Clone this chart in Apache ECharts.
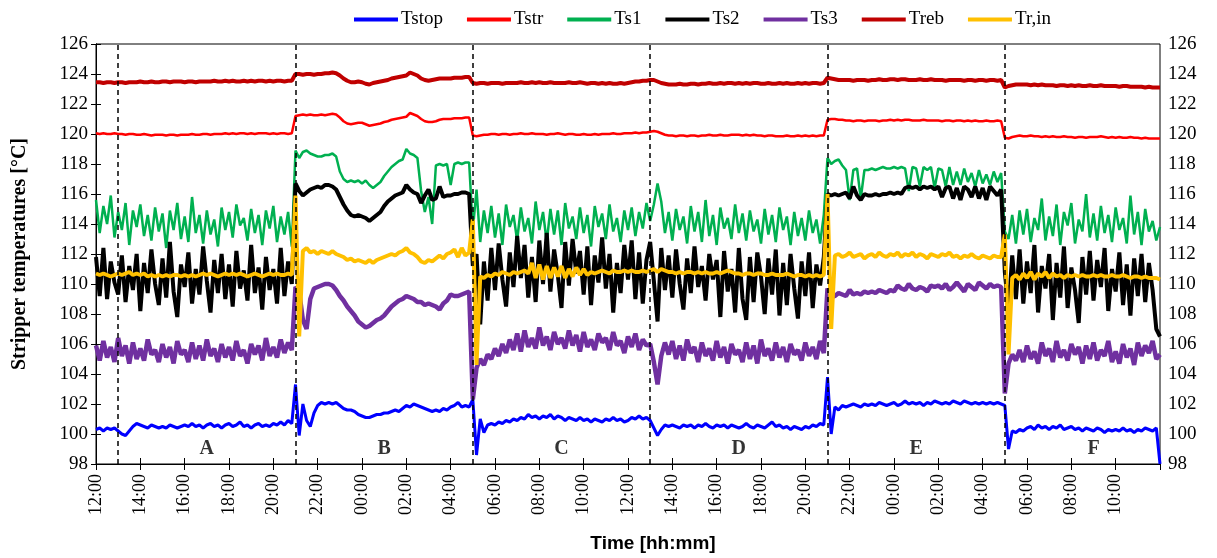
<!DOCTYPE html>
<html>
<head>
<meta charset="utf-8">
<title>Stripper temperatures</title>
<script src="https://cdn.jsdelivr.net/npm/echarts/dist/echarts.min.js"></script>
<style>
  html, body { margin: 0; padding: 0; background: #fff; }
  #chart { width: 1217px; height: 558px; }
</style>
</head>
<body>
<div id="chart"></div>
<script>
// one value every 10 min, one row = one hour, hour 0 = 12:00
const stepHours = 1 / 6;

const tstop = [
  100.3,100.4,100.2,100.4,100.3,100.4,
  100.2,100.0,99.9,100.2,100.5,100.7,
  100.6,100.5,100.4,100.6,100.5,100.4,
  100.5,100.4,100.6,100.5,100.4,100.5,
  100.6,100.5,100.7,100.5,100.6,100.4,
  100.6,100.7,100.5,100.6,100.4,100.6,
  100.7,100.5,100.6,100.8,100.5,100.6,
  100.4,100.6,100.7,100.5,100.6,100.5,
  100.7,100.6,100.8,100.6,100.9,100.7,
  103.3,99.9,102.0,100.9,100.5,101.4,
  101.9,102.1,102.0,102.1,102.0,102.1,
  101.9,101.7,101.6,101.6,101.5,101.3,
  101.2,101.1,101.1,101.2,101.3,101.3,
  101.4,101.4,101.5,101.6,101.5,101.7,
  101.9,101.8,102.0,101.9,101.8,101.7,
  101.6,101.5,101.6,101.5,101.7,101.6,
  101.8,101.9,102.1,101.8,101.9,101.8,
  102.3,98.6,101.0,100.1,100.6,100.7,
  100.6,100.8,100.7,100.9,100.8,101.0,
  100.9,101.1,101.0,101.3,101.1,101.2,
  101.0,101.2,101.1,101.3,101.0,101.2,
  101.1,100.9,101.1,101.0,100.9,101.1,
  100.9,101.0,100.8,101.0,100.9,100.8,
  101.0,100.9,101.1,100.9,101.0,100.8,
  100.9,101.1,101.0,101.2,101.0,101.1,
  100.9,100.4,99.9,100.3,100.6,100.5,
  100.6,100.5,100.4,100.6,100.5,100.6,
  100.4,100.6,100.5,100.7,100.5,100.4,
  100.6,100.5,100.6,100.4,100.6,100.5,
  100.4,100.5,100.7,100.5,100.4,100.6,
  100.5,100.4,100.6,100.8,100.5,100.6,
  100.4,100.5,100.3,100.5,100.4,100.3,
  100.5,100.4,100.6,100.5,100.7,100.6,
  103.8,100.0,101.8,101.6,101.9,101.8,
  101.9,102.0,101.9,101.8,102.0,101.9,
  102.0,101.9,102.1,102.0,101.9,102.0,
  102.1,101.9,102.0,102.2,102.0,102.1,
  102.0,102.1,101.9,102.1,102.0,102.2,
  102.1,102.0,102.1,102.0,102.2,102.1,
  102.0,102.2,102.1,102.0,102.1,102.0,
  102.1,102.0,102.1,102.0,102.1,102.0,
  101.9,99.0,100.2,100.1,100.3,100.2,
  100.4,100.5,100.3,100.6,100.4,100.5,
  100.3,100.5,100.4,100.6,100.3,100.4,
  100.5,100.3,100.4,100.2,100.4,100.3,
  100.2,100.4,100.3,100.1,100.3,100.2,
  100.3,100.2,100.4,100.2,100.3,100.1,
  100.3,100.2,100.4,100.3,100.2,100.4,
  98.0
];

const tstr = [
  120.05,120.0,120.05,120.0,120.0,120.05,
  120.0,120.0,119.95,120.0,120.0,119.95,
  119.95,120.0,119.95,119.9,119.95,119.95,
  119.95,119.9,119.95,119.95,119.9,119.95,
  119.95,119.95,120.0,119.95,119.95,120.0,
  120.0,119.95,120.0,120.0,120.0,120.05,
  120.0,120.05,120.0,120.05,120.05,120.0,
  120.05,120.0,120.05,120.05,120.05,120.0,
  120.05,120.0,120.05,120.05,120.0,120.05,
  121.2,121.25,121.3,121.25,121.3,121.25,
  121.25,121.3,121.25,121.3,121.35,121.3,
  121.1,120.85,120.7,120.65,120.7,120.75,
  120.75,120.65,120.55,120.6,120.65,120.7,
  120.8,120.85,120.95,121.0,121.05,121.1,
  121.15,121.4,121.3,121.2,121.0,120.85,
  120.8,120.8,120.85,120.95,121.0,121.0,
  121.0,121.05,121.05,121.05,121.1,121.1,
  119.9,119.85,119.9,119.95,119.95,120.0,
  120.0,119.95,120.0,120.0,119.95,120.0,
  120.0,120.05,120.0,120.0,120.05,120.0,
  120.0,120.0,119.95,120.0,120.0,120.05,
  120.0,119.95,120.0,120.0,119.95,119.95,
  120.0,119.95,119.95,120.0,119.95,120.0,
  120.0,120.0,120.05,120.0,120.0,120.05,
  120.05,120.05,120.1,120.05,120.1,120.1,
  120.15,120.2,120.15,120.05,119.95,119.9,
  119.9,119.85,119.9,119.9,119.85,119.9,
  119.9,119.85,119.9,119.9,119.95,119.9,
  119.9,119.95,119.9,119.9,119.95,119.95,
  119.95,119.9,119.95,119.9,119.95,119.9,
  119.9,119.85,119.9,119.9,119.85,119.85,
  119.85,119.9,119.85,119.85,119.9,119.85,
  119.9,119.85,119.9,119.85,119.9,119.9,
  120.95,121.0,121.0,120.95,120.95,120.9,
  120.9,120.85,120.9,120.9,120.85,120.9,
  120.9,120.9,120.85,120.9,120.9,120.95,
  120.9,120.95,120.9,120.95,120.95,120.9,
  120.9,120.9,120.95,120.9,120.9,120.9,
  120.9,120.85,120.9,120.9,120.85,120.9,
  120.9,120.85,120.9,120.85,120.9,120.85,
  120.85,120.9,120.85,120.85,120.9,120.85,
  119.75,119.7,119.8,119.85,119.9,119.85,
  119.85,119.9,119.85,119.85,119.8,119.85,
  119.8,119.85,119.8,119.8,119.85,119.8,
  119.8,119.75,119.8,119.8,119.75,119.8,
  119.8,119.8,119.85,119.8,119.75,119.8,
  119.75,119.8,119.75,119.75,119.8,119.75,
  119.75,119.7,119.75,119.7,119.7,119.7,
  119.7
];

const ts1 = [
  115.6,113.4,115.2,114.0,115.9,113.1,
  114.8,113.6,115.4,112.6,114.9,113.8,
  115.3,113.2,114.6,112.9,115.1,113.5,
  114.7,112.4,114.9,113.6,115.4,113.0,
  114.5,112.8,115.8,113.4,114.6,112.7,
  114.9,113.3,114.3,112.5,115.1,113.6,
  114.8,113.1,115.3,113.9,114.4,112.9,
  115.0,113.4,114.6,112.6,114.9,113.7,
  115.2,112.8,114.5,113.3,114.8,112.5,
  118.9,118.4,118.8,118.9,118.7,118.6,
  118.5,118.5,118.6,118.6,118.7,118.5,
  117.5,117.0,116.8,116.9,116.8,116.9,
  116.7,116.9,116.6,116.4,116.6,116.8,
  117.2,117.5,117.8,118.0,118.2,118.3,
  119.0,118.7,118.6,118.4,116.2,114.8,
  115.8,114.0,117.9,118.0,117.9,118.0,
  116.6,118.0,118.1,118.0,118.1,118.1,
  113.6,116.3,112.8,114.9,113.4,115.2,
  113.1,114.7,112.6,115.3,113.8,114.6,
  112.9,115.1,113.5,114.4,112.7,115.5,
  113.6,114.8,112.8,115.0,113.3,114.9,
  112.6,115.4,113.7,114.5,113.0,115.1,
  113.4,114.6,112.5,115.2,113.8,114.7,
  113.0,115.3,113.5,114.4,112.8,114.9,
  113.6,115.1,113.2,114.8,113.7,115.4,
  114.2,115.3,116.7,115.5,113.4,114.8,
  112.9,115.0,113.6,114.5,112.7,115.2,
  113.5,114.8,112.8,115.6,113.2,114.6,
  112.6,115.1,113.7,114.4,113.0,115.3,
  113.4,114.7,112.9,114.9,113.5,114.3,
  112.7,115.0,113.3,114.6,112.8,115.1,
  113.6,114.5,112.6,114.8,113.2,114.4,
  112.9,114.9,113.4,114.3,112.7,114.6,
  118.4,118.0,118.2,118.3,117.9,117.6,
  115.6,117.6,117.7,115.7,117.6,117.6,
  117.7,117.6,117.7,117.8,117.7,117.7,
  117.8,117.7,117.8,117.7,116.2,117.8,
  117.7,116.5,117.8,117.6,117.8,116.4,
  117.7,117.6,116.5,117.8,116.6,117.5,
  116.6,117.7,116.8,117.4,116.5,117.6,
  116.7,117.3,116.6,117.5,116.8,117.4,
  113.5,113.0,114.6,112.7,114.9,113.3,
  115.0,112.8,114.4,113.6,115.7,112.9,
  114.5,113.2,115.3,112.6,114.8,113.9,
  115.4,112.7,114.3,113.5,116.0,113.1,
  114.7,112.9,115.2,113.4,114.6,112.8,
  115.1,113.6,114.4,112.7,115.9,113.3,
  114.8,112.6,115.0,113.5,114.2,112.9,
  113.8
];

const ts2 = [
  111.8,109.2,112.4,109.0,111.5,110.1,
  109.3,111.9,108.8,111.2,109.6,112.0,
  108.2,111.4,109.4,112.3,110.0,108.6,
  111.7,109.1,112.8,109.5,107.8,111.3,
  109.8,112.1,108.7,111.0,109.3,112.5,
  110.2,108.1,111.6,109.4,112.0,109.0,
  111.3,108.5,112.2,109.7,110.9,108.9,
  112.6,109.4,111.1,108.3,111.8,109.6,
  111.0,108.7,112.4,109.2,111.5,110.0,
  116.7,116.2,115.9,116.1,116.3,116.4,
  116.5,116.4,116.6,116.6,116.5,116.3,
  115.8,115.3,114.9,114.6,114.5,114.6,
  114.5,114.4,114.2,114.4,114.6,114.8,
  115.2,115.5,115.7,115.9,116.0,116.1,
  116.6,116.3,116.1,116.0,115.4,115.9,
  116.3,115.6,115.7,116.5,115.8,115.9,
  115.9,116.0,116.0,116.1,116.1,116.0,
  111.2,112.0,107.3,111.5,108.9,112.4,
  109.6,112.7,110.3,108.5,112.1,109.8,
  113.2,110.4,112.6,109.1,111.8,108.8,
  112.9,110.0,113.4,109.5,112.3,110.6,
  108.4,112.8,109.9,113.0,110.7,112.2,
  109.3,112.5,108.6,111.9,110.1,113.1,
  109.7,112.0,108.1,111.4,109.4,112.6,
  110.3,112.9,109.0,112.1,108.7,111.6,
  112.8,110.2,107.5,112.4,109.6,111.9,
  109.1,112.3,110.0,108.3,111.7,109.4,
  112.5,109.8,111.2,108.9,112.0,110.3,
  111.6,107.8,112.2,109.5,111.0,108.1,
  112.4,109.0,107.6,111.8,108.8,112.1,
  110.5,108.0,111.7,109.3,112.3,107.9,
  111.4,108.6,112.0,109.7,107.7,111.5,
  109.2,112.1,108.4,111.3,109.9,111.8,
  116.0,115.9,116.0,115.9,116.0,116.1,
  115.7,116.5,115.9,115.6,116.0,115.9,
  115.9,116.0,115.9,116.0,116.0,116.1,
  116.0,116.1,116.0,116.4,116.5,116.4,
  116.5,116.3,116.5,116.4,116.5,116.3,
  116.5,115.8,116.4,116.5,115.7,116.4,
  115.6,116.5,116.3,115.8,116.5,115.7,
  116.4,115.6,116.5,116.2,115.9,116.3,
  110.8,108.2,111.9,109.0,112.3,108.7,
  111.5,109.4,112.6,108.1,111.2,109.7,
  112.0,107.6,111.4,109.1,112.5,108.4,
  111.1,109.6,107.4,111.8,109.3,112.2,
  108.9,111.6,109.8,112.4,108.2,111.0,
  109.5,112.1,108.6,111.3,107.9,111.7,
  109.2,112.0,108.8,111.4,109.6,107.0,
  106.5
];

const ts3 = [
  105.9,104.9,106.2,105.1,105.8,104.8,
  106.4,105.2,105.9,104.7,106.1,105.0,
  105.7,104.9,106.3,105.3,105.6,104.8,
  106.0,105.1,105.8,104.7,106.2,105.3,
  105.6,104.8,106.1,105.0,105.9,104.9,
  106.3,105.2,105.7,104.8,106.0,105.1,
  105.8,104.9,106.2,105.2,105.6,104.7,
  106.0,105.3,105.9,104.9,106.4,105.2,
  105.8,105.1,106.3,105.4,106.1,105.6,
  109.8,109.5,107.6,107.0,109.0,109.7,
  109.8,109.9,110.0,110.0,109.9,109.6,
  109.2,108.9,108.5,108.2,107.9,107.5,
  107.3,107.1,107.2,107.4,107.6,107.7,
  107.9,108.2,108.5,108.7,108.9,109.0,
  109.2,109.1,109.0,108.8,108.8,108.6,
  108.7,108.6,108.5,108.3,108.7,108.9,
  109.3,109.2,109.2,109.3,109.4,109.5,
  102.3,104.4,105.0,104.6,105.3,105.0,
  105.7,105.2,106.0,105.4,106.3,105.6,
  106.7,105.5,106.9,105.8,106.4,105.7,
  107.1,105.9,106.5,105.6,106.8,106.0,
  106.4,105.7,106.9,105.9,106.6,105.5,
  106.8,105.8,106.3,105.6,106.7,106.1,
  106.4,105.6,106.8,105.9,106.2,105.4,
  106.5,105.8,106.7,105.6,106.3,105.9,
  106.0,104.8,103.3,105.2,106.1,105.3,
  106.2,105.0,105.9,104.9,106.3,105.4,
  105.8,104.8,106.1,105.2,105.7,104.9,
  106.2,105.1,105.8,104.7,106.0,105.3,
  105.6,104.8,106.1,105.0,105.9,104.7,
  106.3,105.2,105.7,104.9,106.1,105.1,
  105.8,104.8,106.0,105.3,105.6,104.9,
  106.1,105.2,105.8,105.0,106.2,105.4,
  109.7,109.1,109.2,109.4,109.3,109.2,
  109.6,109.3,109.4,109.3,109.5,109.4,
  109.5,109.4,109.6,109.5,109.4,109.6,
  109.5,109.9,109.7,109.6,110.0,109.7,
  109.6,109.8,109.7,109.5,109.9,109.8,
  109.9,109.7,110.0,109.6,109.8,110.1,
  109.8,109.5,110.0,109.8,109.6,110.1,
  109.9,109.7,110.0,109.8,109.9,109.8,
  102.7,104.7,105.3,104.9,105.6,104.8,
  105.9,105.0,105.5,104.7,106.1,105.2,
  105.7,104.8,106.2,105.1,105.6,104.9,
  106.0,105.3,105.8,104.7,105.9,105.0,
  106.1,104.9,105.6,105.2,106.2,104.8,
  105.5,104.7,106.0,105.1,105.7,104.6,
  106.1,105.2,105.9,105.4,106.2,105.0,
  105.3
];

const treb = [
  123.45,123.45,123.4,123.45,123.45,123.4,
  123.45,123.45,123.4,123.45,123.45,123.45,
  123.5,123.45,123.45,123.5,123.45,123.45,
  123.5,123.5,123.45,123.5,123.5,123.5,
  123.45,123.5,123.5,123.45,123.5,123.5,
  123.5,123.5,123.55,123.5,123.5,123.55,
  123.5,123.55,123.5,123.5,123.55,123.5,
  123.55,123.5,123.55,123.55,123.5,123.55,
  123.5,123.55,123.55,123.5,123.55,123.55,
  124.0,124.0,123.95,124.0,124.0,123.95,
  124.0,124.0,124.05,124.05,124.1,124.05,
  123.9,123.7,123.55,123.45,123.45,123.5,
  123.45,123.35,123.3,123.4,123.45,123.5,
  123.55,123.6,123.7,123.75,123.8,123.85,
  123.9,124.1,124.0,123.9,123.7,123.6,
  123.55,123.6,123.65,123.7,123.7,123.7,
  123.7,123.75,123.75,123.75,123.8,123.8,
  123.4,123.35,123.4,123.4,123.35,123.4,
  123.4,123.4,123.35,123.4,123.4,123.4,
  123.4,123.45,123.4,123.4,123.45,123.4,
  123.45,123.4,123.4,123.45,123.4,123.4,
  123.4,123.4,123.45,123.4,123.4,123.45,
  123.4,123.35,123.4,123.4,123.35,123.4,
  123.35,123.4,123.35,123.35,123.4,123.35,
  123.4,123.45,123.5,123.5,123.55,123.55,
  123.6,123.6,123.5,123.4,123.35,123.3,
  123.3,123.3,123.35,123.3,123.3,123.35,
  123.35,123.3,123.35,123.35,123.4,123.35,
  123.35,123.4,123.35,123.4,123.4,123.35,
  123.4,123.35,123.4,123.35,123.4,123.4,
  123.35,123.35,123.4,123.35,123.35,123.4,
  123.35,123.4,123.35,123.35,123.4,123.35,
  123.4,123.35,123.4,123.4,123.35,123.4,
  123.75,123.7,123.65,123.6,123.6,123.6,
  123.6,123.55,123.6,123.6,123.6,123.55,
  123.6,123.6,123.65,123.6,123.6,123.65,
  123.65,123.6,123.65,123.65,123.6,123.6,
  123.6,123.65,123.6,123.6,123.65,123.6,
  123.6,123.6,123.55,123.6,123.6,123.6,
  123.6,123.55,123.6,123.6,123.55,123.6,
  123.6,123.55,123.6,123.6,123.55,123.6,
  123.1,123.2,123.25,123.3,123.3,123.3,
  123.3,123.25,123.3,123.25,123.3,123.25,
  123.25,123.25,123.2,123.25,123.25,123.2,
  123.25,123.2,123.25,123.2,123.2,123.25,
  123.2,123.2,123.25,123.2,123.2,123.2,
  123.2,123.15,123.2,123.2,123.15,123.15,
  123.15,123.15,123.1,123.15,123.1,123.1,
  123.1
];

const trin = [
  110.7,110.6,110.7,110.6,110.5,110.6,
  110.7,110.6,110.7,110.8,110.6,110.7,
  110.6,110.7,110.5,110.6,110.5,110.6,
  110.5,110.6,110.5,110.6,110.6,110.5,
  110.6,110.5,110.6,110.5,110.6,110.7,
  110.6,110.7,110.6,110.5,110.6,110.7,
  110.6,110.7,110.6,110.7,110.6,110.5,
  110.6,110.7,110.6,110.5,110.6,110.7,
  110.6,110.7,110.6,110.6,110.7,110.6,
  115.9,106.5,112.2,112.4,112.1,112.2,
  112.0,112.2,112.1,112.0,112.2,112.0,
  111.9,111.8,111.6,111.7,111.5,111.6,
  111.5,111.4,111.6,111.4,111.6,111.7,
  111.8,111.9,112.0,111.9,112.1,112.2,
  112.4,112.1,112.0,111.8,111.5,111.4,
  111.6,111.5,111.7,111.9,111.7,112.0,
  112.1,112.3,111.8,112.4,111.9,112.1,
  114.3,104.6,110.5,110.4,110.6,110.5,
  110.7,110.6,110.8,110.7,110.6,110.8,
  110.7,110.8,110.9,110.7,111.4,110.4,
  111.3,110.3,111.2,110.4,111.1,110.5,
  111.2,110.4,111.0,110.5,111.1,110.6,
  111.0,110.6,110.8,110.7,110.8,110.9,
  110.8,110.7,110.9,110.8,110.8,110.9,
  110.8,110.9,110.8,110.8,110.9,110.8,
  110.9,111.0,110.8,111.0,110.9,110.8,
  110.8,110.7,110.8,110.7,110.8,110.8,
  110.7,110.8,110.7,110.8,110.7,110.7,
  110.8,110.7,110.8,110.9,110.8,110.7,
  110.7,110.6,110.7,110.7,110.6,110.7,
  110.7,110.6,110.6,110.7,110.6,110.6,
  110.6,110.7,110.6,110.5,110.6,110.6,
  110.5,110.6,110.5,110.6,110.5,110.6,
  116.0,107.0,111.9,112.0,111.8,111.9,
  112.1,111.8,111.9,112.0,111.7,111.9,
  112.0,111.8,112.1,111.9,111.8,112.0,
  111.9,112.1,111.8,112.0,111.9,112.1,
  111.8,112.0,111.9,111.7,112.0,111.9,
  111.8,112.0,111.9,112.1,111.8,111.9,
  111.7,111.9,111.8,112.0,111.8,111.7,
  111.9,111.8,111.7,111.9,111.8,111.8,
  113.3,105.3,110.4,110.6,110.3,110.7,
  110.4,110.8,110.3,110.7,110.5,110.8,
  110.4,110.7,110.5,110.6,110.4,110.6,
  110.5,110.6,110.5,110.6,110.5,110.5,
  110.6,110.5,110.6,110.5,110.5,110.6,
  110.5,110.5,110.6,110.5,110.4,110.5,
  110.5,110.4,110.5,110.4,110.4,110.4,
  110.3
];

// operating periods
const phaseBounds = [1, 9, 17, 25, 33, 41];
const phaseCenters = [5, 13, 21, 29, 37, 45];
const phaseLetters = ["A", "B", "C", "D", "E", "F"];

const seriesNames = ["Tstop", "Tstr", "Ts1", "Ts2", "Ts3", "Treb", "Tr,in"];
const seriesValues = [tstop, tstr, ts1, ts2, ts3, treb, trin];
const seriesColors = ["#0000FF", "#FF0000", "#00B050", "#000000", "#7030A0", "#C00000", "#FFC000"];
const seriesWidths = [3, 2.5, 2.5, 4, 4.5, 4, 4];

const serif = "Liberation Serif";

function toPairs(arr) {
  return arr.map(function (v, i) {
    return [i * stepHours, v];
  });
}

function clockLabel(v) {
  if (v >= 48) return "";
  const hh = (12 + v) % 24;
  return (hh < 10 ? "0" : "") + hh + ":00";
}

const chart = echarts.init(document.getElementById("chart"));

const lineSeries = seriesNames.map(function (name, k) {
  return {
    name: name,
    type: "line",
    data: toPairs(seriesValues[k]),
    showSymbol: false,
    symbol: "none",
    color: seriesColors[k],
    lineStyle: { color: seriesColors[k], width: seriesWidths[k] },
    animation: false
  };
});

// dashed period limits and period letters
lineSeries.unshift({
  name: "periods",
  type: "scatter",
  symbolSize: 0,
  silent: true,
  data: phaseCenters.map(function (h) { return [h, 99.0]; }),
  label: {
    show: true,
    position: "inside",
    formatter: function (p) { return phaseLetters[p.dataIndex]; },
    fontFamily: serif,
    fontWeight: "bold",
    fontSize: 20,
    color: "#000"
  },
  markLine: {
    silent: true,
    symbol: ["none", "none"],
    label: { show: false },
    lineStyle: { color: "#000", type: [5, 4], width: 1.5 },
    data: phaseBounds.map(function (h) { return { xAxis: h }; })
  },
  animation: false
});

const yAxisBase = {
  type: "value",
  min: 98,
  max: 126,
  interval: 2,
  splitLine: { show: false },
  axisLine: { show: true, lineStyle: { color: "#000", width: 1 } },
  axisTick: { show: true, length: 5, lineStyle: { color: "#000" } },
  axisLabel: { color: "#000", fontFamily: serif, fontSize: 19, margin: 8 }
};

chart.setOption({
  backgroundColor: "#fff",
  animation: false,
  legend: {
    data: seriesNames,
    top: 5,
    left: 349,
    icon: "rect",
    itemWidth: 44,
    itemHeight: 4,
    itemGap: 24,
    textStyle: { color: "#000", fontFamily: serif, fontSize: 19, padding: [0, 0, 0, -2] }
  },
  grid: {
    left: 96,
    right: 57,
    top: 44,
    bottom: 92,
    show: true,
    borderColor: "#000",
    borderWidth: 1
  },
  xAxis: [
    {
      type: "value",
      min: 0,
      max: 48,
      interval: 2,
      name: "Time [hh:mm]",
      nameLocation: "middle",
      nameGap: 70,
      nameTextStyle: {
        color: "#000",
        fontFamily: "Liberation Sans",
        fontWeight: "bold",
        fontSize: 19,
        padding: [0, 0, 0, 50]
      },
      splitLine: { show: false },
      axisLine: { show: true, lineStyle: { color: "#000", width: 1 } },
      axisTick: { show: true, length: 6, lineStyle: { color: "#000" } },
      axisLabel: {
        rotate: 90,
        color: "#000",
        fontFamily: serif,
        fontSize: 18,
        margin: 10,
        formatter: clockLabel
      }
    },
    {
      // inward half of the crossing ticks
      type: "value",
      position: "bottom",
      min: 0,
      max: 48,
      interval: 2,
      splitLine: { show: false },
      axisLine: { show: false },
      axisTick: { show: true, inside: true, length: 6, lineStyle: { color: "#000" } },
      axisLabel: { show: false }
    }
  ],
  yAxis: [
    Object.assign({}, yAxisBase, {
      position: "left",
      name: "Stripper temperatures [°C]",
      nameLocation: "middle",
      nameGap: 66,
      nameTextStyle: { color: "#000", fontFamily: serif, fontWeight: "bold", fontSize: 20 }
    }),
    Object.assign({}, yAxisBase, { position: "right" })
  ],
  series: lineSeries
});
</script>
</body>
</html>
